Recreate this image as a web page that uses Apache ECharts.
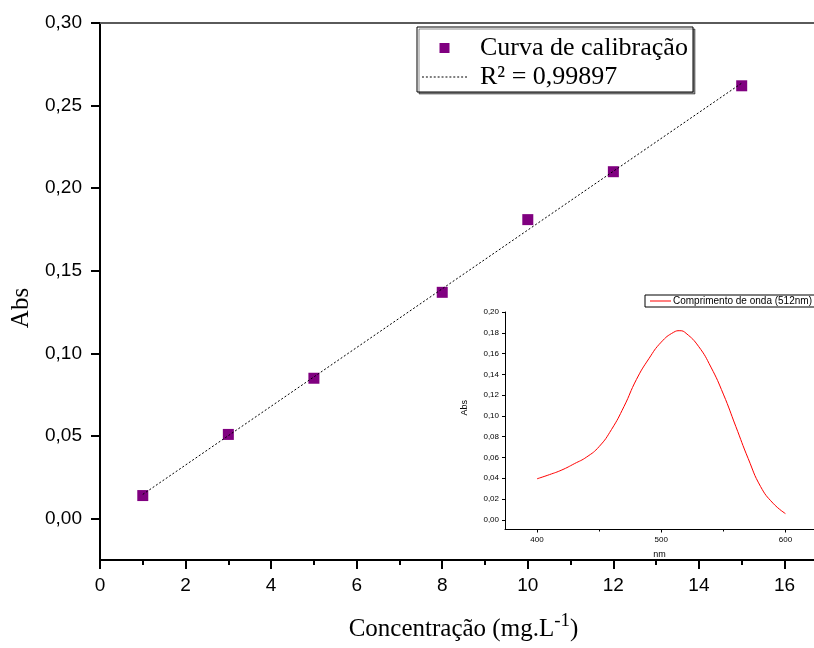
<!DOCTYPE html>
<html>
<head>
<meta charset="utf-8">
<script src="https://cdn.jsdelivr.net/npm/echarts@6/dist/echarts.min.js"></script>
<style>html,body{margin:0;padding:0;background:#fff}#c{width:814px;height:648px}</style>
</head>
<body>
<div id="c"></div>
<script>
// Calibration curve data
const concX = [1, 3, 5, 8, 10, 12, 15];
const absY = [0.014, 0.051, 0.085, 0.137, 0.181, 0.210, 0.262];
// Linear fit line endpoints
const fitX = [1, 15];
const fitY = [0.0147, 0.2636];
// Main axes ticks
const mainXTicks = [0, 2, 4, 6, 8, 10, 12, 14, 16];
const mainXMinor = [1, 3, 5, 7, 9, 11, 13, 15];
const mainYTicks = [0, 0.05, 0.10, 0.15, 0.20, 0.25, 0.30];
const mainYMinor = [0.025, 0.075, 0.125, 0.175, 0.225, 0.275];
// Inset spectrum
const waveNm = [400, 410, 420, 430, 440, 450, 460, 470, 480, 490, 500, 510, 515, 520, 530, 540, 550, 560, 570, 580, 590, 600];
const waveAbs = [0.0395, 0.0435, 0.048, 0.054, 0.0605, 0.0705, 0.0870, 0.109, 0.135, 0.155, 0.171, 0.1805, 0.182, 0.1795, 0.167, 0.147, 0.121, 0.090, 0.059, 0.032, 0.016, 0.006];
const insetXTicks = [400, 500, 600];
const insetXMinor = [450, 550];
const insetYTicks = [0, 0.02, 0.04, 0.06, 0.08, 0.10, 0.12, 0.14, 0.16, 0.18, 0.20];
const insetYMinor = [0.01, 0.03, 0.05, 0.07, 0.09, 0.11, 0.13, 0.15, 0.17, 0.19];

const serif = '"Liberation Serif", "Times New Roman", serif';
const sans = '"Liberation Sans", Arial, sans-serif';
const comma = (d) => (v) => v.toFixed(d).replace('.', ',');

// legend icons: dotted segment line and plain line
let dotPath = 'path://';
for (let i = 0; i < 45; i += 4) dotPath += 'M' + i + ',0h2v1h-2z';
const solidPath = 'path://M0,0h21v1h-21z';

const chart = echarts.init(document.getElementById('c'), null, {renderer: 'canvas'});
const none = {show: false};
chart.setOption({
  animation: false,
  backgroundColor: '#fff',
  grid: [
    {left: 100, top: 23, width: 714, height: 537, containLabel: false, outerBoundsMode: 'none'},
    {left: 505, top: 312, width: 309, height: 217.5, containLabel: false, outerBoundsMode: 'none'}
  ],
  xAxis: [
    {type: 'value', gridIndex: 0, min: 0, max: 16.69, position: 'bottom',
     axisLine: {show: true, onZero: false, lineStyle: {color: '#000', width: 2}},
     axisTick: {show: true, customValues: mainXTicks, length: 9, lineStyle: {color: '#000', width: 2}},
     axisLabel: {show: true, customValues: mainXTicks, margin: 16, fontSize: 19, fontFamily: sans, color: '#000'},
     splitLine: none,
     name: '{t|Concentração (mg.L}{s|-1}{t|)}', nameLocation: 'middle', nameGap: 52,
     nameTextStyle: {padding: [0, 0, 0, 13], rich: {
       t: {fontSize: 25, fontFamily: serif, color: '#000', verticalAlign: 'bottom', lineHeight: 30},
       s: {fontSize: 19, fontFamily: serif, color: '#000', verticalAlign: 'top', lineHeight: 30, padding: [0, 0, 14, 0]}
     }}},
    {type: 'value', gridIndex: 0, min: 0, max: 16.69, position: 'bottom',
     axisLine: {show: false, onZero: false},
     axisTick: {show: true, customValues: mainXMinor, length: 5, lineStyle: {color: '#000', width: 2}},
     axisLabel: none, splitLine: none},
    {type: 'value', gridIndex: 0, min: 0, max: 16.69, position: 'top',
     axisLine: {show: true, onZero: false, lineStyle: {color: '#5a5a5a', width: 2}},
     axisTick: none, axisLabel: none, splitLine: none},
    {type: 'value', gridIndex: 1, min: 374.2, max: 623, position: 'bottom',
     axisLine: {show: true, onZero: false, lineStyle: {color: '#000', width: 1}},
     axisTick: {show: true, customValues: insetXTicks, length: 3, lineStyle: {color: '#000'}},
     axisLabel: {show: true, customValues: insetXTicks, margin: 6, fontSize: 8, fontFamily: sans, color: '#000'},
     splitLine: none,
     name: 'nm', nameLocation: 'middle', nameGap: 21, nameTextStyle: {fontSize: 9, fontFamily: sans, color: '#000'}},
    {type: 'value', gridIndex: 1, min: 374.2, max: 623, position: 'bottom',
     axisLine: {show: false, onZero: false},
     axisTick: {show: true, customValues: insetXMinor, length: 2, lineStyle: {color: '#000'}},
     axisLabel: none, splitLine: none}
  ],
  yAxis: [
    {type: 'value', gridIndex: 0, min: -0.025, max: 0.30,
     axisLine: {show: true, onZero: false, lineStyle: {color: '#000', width: 2}},
     axisTick: {show: true, customValues: mainYTicks, length: 9, lineStyle: {color: '#000', width: 2}},
     axisLabel: {show: true, customValues: mainYTicks, margin: 18, fontSize: 19, fontFamily: sans, color: '#000', formatter: comma(2)},
     splitLine: none,
     name: 'Abs', nameLocation: 'middle', nameGap: 66,
     nameTextStyle: {fontSize: 25, fontFamily: serif, color: '#000', padding: [0, 33, 0, 0]}},
    {type: 'value', gridIndex: 0, min: -0.025, max: 0.30,
     axisLine: {show: false, onZero: false},
     axisTick: {show: true, customValues: mainYMinor, length: 5, lineStyle: {color: '#000', width: 2}},
     axisLabel: none, splitLine: none},
    {type: 'value', gridIndex: 1, min: -0.0093, max: 0.20,
     axisLine: {show: true, onZero: false, lineStyle: {color: '#000', width: 1}},
     axisTick: {show: true, customValues: insetYTicks, length: 3, lineStyle: {color: '#000'}},
     axisLabel: {show: true, customValues: insetYTicks, margin: 6, fontSize: 8, fontFamily: sans, color: '#000', formatter: comma(2)},
     splitLine: none,
     name: 'Abs', nameLocation: 'middle', nameGap: 36,
     nameTextStyle: {fontSize: 9, fontFamily: sans, color: '#000', padding: [0, 0, 0, 26]}},
    {type: 'value', gridIndex: 1, min: -0.0093, max: 0.20,
     axisLine: {show: false, onZero: false},
     axisTick: {show: true, customValues: insetYMinor, length: 2, lineStyle: {color: '#000'}},
     axisLabel: none, splitLine: none}
  ],
  legend: [
    {orient: 'vertical', left: 422, top: 35, padding: 0, itemGap: 3, itemWidth: 45, itemHeight: 10,
     selectedMode: false, z: 10,
     textStyle: {fontSize: 26, fontFamily: serif, color: '#000', padding: [0, 0, 0, 8]},
     data: [{name: 'Curva de calibração', icon: 'path://M0,0H10V10H0Z'}, {name: 'R² = 0,99897', icon: dotPath}]},
    {left: 645, top: 295, padding: [1, 3, 1, 5], itemWidth: 21, itemHeight: 8, selectedMode: false,
     borderColor: '#000', borderWidth: 1, backgroundColor: '#fff', z: 10,
     textStyle: {fontSize: 10, fontFamily: sans, color: '#000', padding: [0, 0, 0, -3]},
     data: [{name: 'Comprimento de onda (512nm)', icon: solidPath}]}
  ],
  graphic: [
    {type: 'rect', z: 1, shape: {x: 417, y: 27, width: 276, height: 65},
     style: {fill: '#fff', stroke: '#000', lineWidth: 1, shadowColor: 'rgba(0,0,0,0.45)', shadowOffsetX: 2, shadowOffsetY: 2, shadowBlur: 0}}
  ],
  series: [
    {name: 'Curva de calibração', type: 'scatter', xAxisIndex: 0, yAxisIndex: 0, symbol: 'rect', symbolSize: 11, z: 3,
     data: concX.map((x, i) => [x, absY[i]]), itemStyle: {color: '#800080', opacity: 1}},
    {name: 'R² = 0,99897', type: 'line', xAxisIndex: 0, yAxisIndex: 0, symbol: 'none', z: 5,
     data: fitX.map((x, i) => [x, fitY[i]]),
     lineStyle: {color: '#000', width: 1, type: [2, 2]}, itemStyle: {color: '#000'}},
    {name: 'Comprimento de onda (512nm)', type: 'line', xAxisIndex: 3, yAxisIndex: 2, symbol: 'none', smooth: true,
     data: waveNm.map((x, i) => [x, waveAbs[i]]), lineStyle: {color: '#ff0000', width: 1}, itemStyle: {color: '#ff0000'}}
  ]
});
</script>
</body>
</html>
